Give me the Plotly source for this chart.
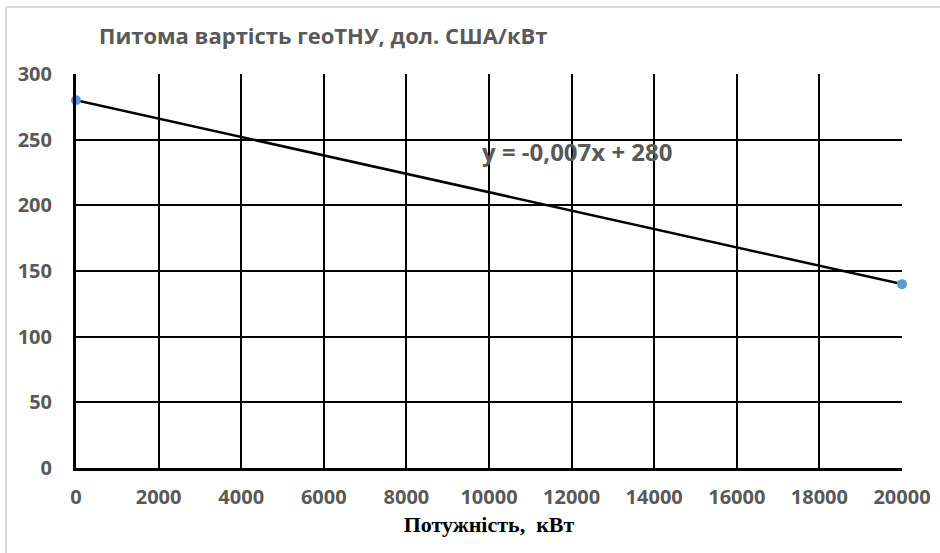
import plotly.graph_objects as go

x_vals = [0, 20000]
y_vals = [280, 140]
x_ticks = [0, 2000, 4000, 6000, 8000, 10000, 12000, 14000, 16000, 18000, 20000]
y_ticks = [0, 50, 100, 150, 200, 250, 300]
title_text = "Питома вартість геоТНУ, дол. США/кВт"
x_title = "Потужність,  кВт"
equation = "y = -0,007x + 280"

W, H = 940, 553
L, R, T, B = 76, 38, 74, 85
pw = W - L - R
ph = H - T - B

fig = go.Figure()
fig.add_trace(go.Scatter(x=x_vals, y=y_vals, mode="lines",
                         line=dict(color="black", width=2.5), hoverinfo="skip", showlegend=False))
fig.add_trace(go.Scatter(x=x_vals, y=y_vals, mode="markers",
                         marker=dict(color="#5B9BD5", size=10), showlegend=False, cliponaxis=False))

tickfont = dict(family="Open Sans", size=20, color="#595959", weight="bold")
fig.update_layout(
    width=W, height=H,
    margin=dict(l=L, r=R, t=T, b=B),
    paper_bgcolor="white", plot_bgcolor="white",
    showlegend=False,
    xaxis=dict(range=[0, 20000], tickvals=x_ticks, ticktext=[str(v) for v in x_ticks],
               showgrid=True, gridcolor="black", gridwidth=2, zeroline=False,
               showline=True, linecolor="black", linewidth=3, mirror=False,
               tickfont=tickfont, ticks="", ticklabelstandoff=9, automargin=False,
               title=dict(text=x_title, font=dict(family="Liberation Serif", size=22, color="black", weight="bold"),
                          standoff=8)),
    yaxis=dict(range=[0, 300], tickvals=y_ticks, showgrid=True, gridcolor="black", gridwidth=2,
               zeroline=False, showline=True, linecolor="black", linewidth=3, automargin=False,
               tickfont=tickfont, ticks="", ticklabelstandoff=17),
)

fig.add_annotation(text=title_text, xref="paper", yref="paper",
                   x=(97 - L) / pw, y=1 + (T - 35) / ph, xanchor="left", yanchor="middle",
                   showarrow=False,
                   font=dict(family="Open Sans", size=22, color="#595959", weight="bold"))
fig.add_annotation(text=equation, xref="x", yref="y", x=9780, y=241,
                   xanchor="left", yanchor="middle", showarrow=False,
                   font=dict(family="Open Sans", size=24, color="#595959", weight="bold"))

# outer chart border (top and left visible)
fig.add_shape(type="line", xref="paper", yref="paper",
              x0=(6 - L) / pw, x1=(W - L) / pw, y0=1 + (T - 7) / ph, y1=1 + (T - 7) / ph,
              line=dict(color="#D9D9D9", width=2))
fig.add_shape(type="line", xref="paper", yref="paper",
              x0=(6 - L) / pw, x1=(6 - L) / pw, y0=1 + (T - 7) / ph, y1=-B / ph,
              line=dict(color="#D9D9D9", width=2))

fig.write_html("out.html")
